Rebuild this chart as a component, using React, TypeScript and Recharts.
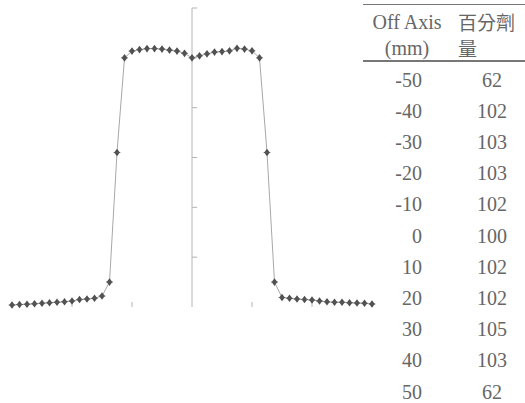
import React from "react";
import { LineChart, Line, XAxis, YAxis, ReferenceLine } from "recharts";

const offAxisMm = [
  -120, -115, -110, -105, -100, -95, -90, -85, -80, -75, -70, -65, -60, -55, -50, -45, -40, -35, -30, -25, -20, -15, -10, -5, 0,
  5, 10, 15, 20, 25, 30, 35, 40, 45, 50, 55, 60, 65, 70, 75, 80, 85, 90, 95, 100, 105, 110, 115, 120,
];
const relDose = [
  0.8, 1.0, 1.1, 1.3, 1.5, 1.7, 1.9, 2.1, 2.4, 3.0, 3.2, 3.5, 4.4, 10, 62, 100, 102.7, 103.3, 103.7, 103.7, 103.5, 103.1, 102.7, 101.8, 100,
  100.8, 101.6, 102.3, 102.5, 102.8, 103.8, 103.5, 102.8, 100, 62, 10, 3.8, 3.5, 3.2, 3.0, 2.8, 2.4, 2.1, 1.9, 1.9, 1.7, 1.6, 1.5, 1.2,
];
const xTicks = [-120, -80, -40, 40, 80, 120];
const yTicks = [20, 40, 60, 80, 100, 120];

const tableOffAxis = ["-50", "-40", "-30", "-20", "-10", "0", "10", "20", "30", "40", "50"];
const tableDose = ["62", "102", "103", "103", "102", "100", "102", "102", "105", "103", "62"];

const profile = offAxisMm.map((x, i) => ({ x, dose: relDose[i] }));

const axisColor = "#b4b4b4";
const textColor = "#666";

// diamond marker with a small crossbar, like the scanned plot
function Diamond(props: any) {
  const { cx, cy } = props;
  if (cx == null || cy == null) return null;
  return (
    <g>
      <polygon points={`${cx},${cy - 3.8} ${cx + 2.8},${cy} ${cx},${cy + 3.8} ${cx - 2.8},${cy}`} fill="#4e4e4e" />
      <line x1={cx - 3.3} y1={cy} x2={cx + 3.3} y2={cy} stroke="#5a5a5a" strokeWidth={1} />
    </g>
  );
}

export default function App() {
  const serif = '"Liberation Serif", "Times New Roman", serif';
  return (
    <div style={{ position: "absolute", left: 0, top: 0, width: 525, height: 403, background: "#fff", overflow: "hidden" }}>
      <LineChart width={385} height={320} data={profile} margin={{ top: 8, right: 10, left: 9, bottom: 13 }}>
        <XAxis
          dataKey="x"
          type="number"
          domain={[-122, 122]}
          ticks={[]}
          height={0}
          tick={false}
          tickLine={false}
          axisLine={{ stroke: axisColor, strokeWidth: 1 }}
        />
        <YAxis type="number" domain={[0, 120]} hide width={0} />
        <ReferenceLine x={0} stroke={axisColor} strokeWidth={1} />
        {yTicks.map((t) => (
          <ReferenceLine key={`y${t}`} segment={[{ x: 0, y: t }, { x: 3.4, y: t }]} stroke={axisColor} strokeWidth={1} />
        ))}
        {xTicks.map((t) => (
          <ReferenceLine key={`x${t}`} segment={[{ x: t, y: 0 }, { x: t, y: 2 }]} stroke={axisColor} strokeWidth={1} />
        ))}
        <Line
          dataKey="dose"
          type="linear"
          stroke="#a8a8a8"
          strokeWidth={1}
          dot={<Diamond />}
          activeDot={false}
          isAnimationActive={false}
        />
      </LineChart>

      <div style={{ position: "absolute", left: 363, top: 4, width: 162, borderTop: "1.5px solid #777" }} />
      <div style={{ position: "absolute", left: 363, top: 60, width: 162, borderTop: "2px solid #777" }} />
      <div style={{ position: "absolute", left: 363, top: 9, width: 88, textAlign: "center", fontFamily: serif, fontSize: 20, lineHeight: "26px", color: textColor }}>
        <div>Off Axis</div>
        <div>(mm)</div>
      </div>
      <div style={{ position: "absolute", left: 458, top: 9, width: 70, fontFamily: '"Noto Sans CJK TC", sans-serif', fontSize: 19, lineHeight: "26px", color: textColor, whiteSpace: "nowrap" }}>
        <div>百分劑</div>
        <div>量</div>
      </div>
      {tableOffAxis.map((v, i) => (
        <div
          key={v}
          style={{ position: "absolute", left: 363, top: 64.5 + i * 31.2, width: 90, height: 31, display: "flex", alignItems: "center", justifyContent: "center", fontFamily: serif, fontSize: 20, color: textColor }}
        >
          <span style={{ display: "inline-block", width: 30, textAlign: "right", marginLeft: -2 }}>{v}</span>
        </div>
      ))}
      {tableDose.map((v, i) => (
        <div
          key={`d${i}`}
          style={{ position: "absolute", left: 456, top: 64.5 + i * 31.2, width: 72, height: 31, display: "flex", alignItems: "center", justifyContent: "center", fontFamily: serif, fontSize: 20, color: textColor }}
        >
          {v}
        </div>
      ))}
    </div>
  );
}
